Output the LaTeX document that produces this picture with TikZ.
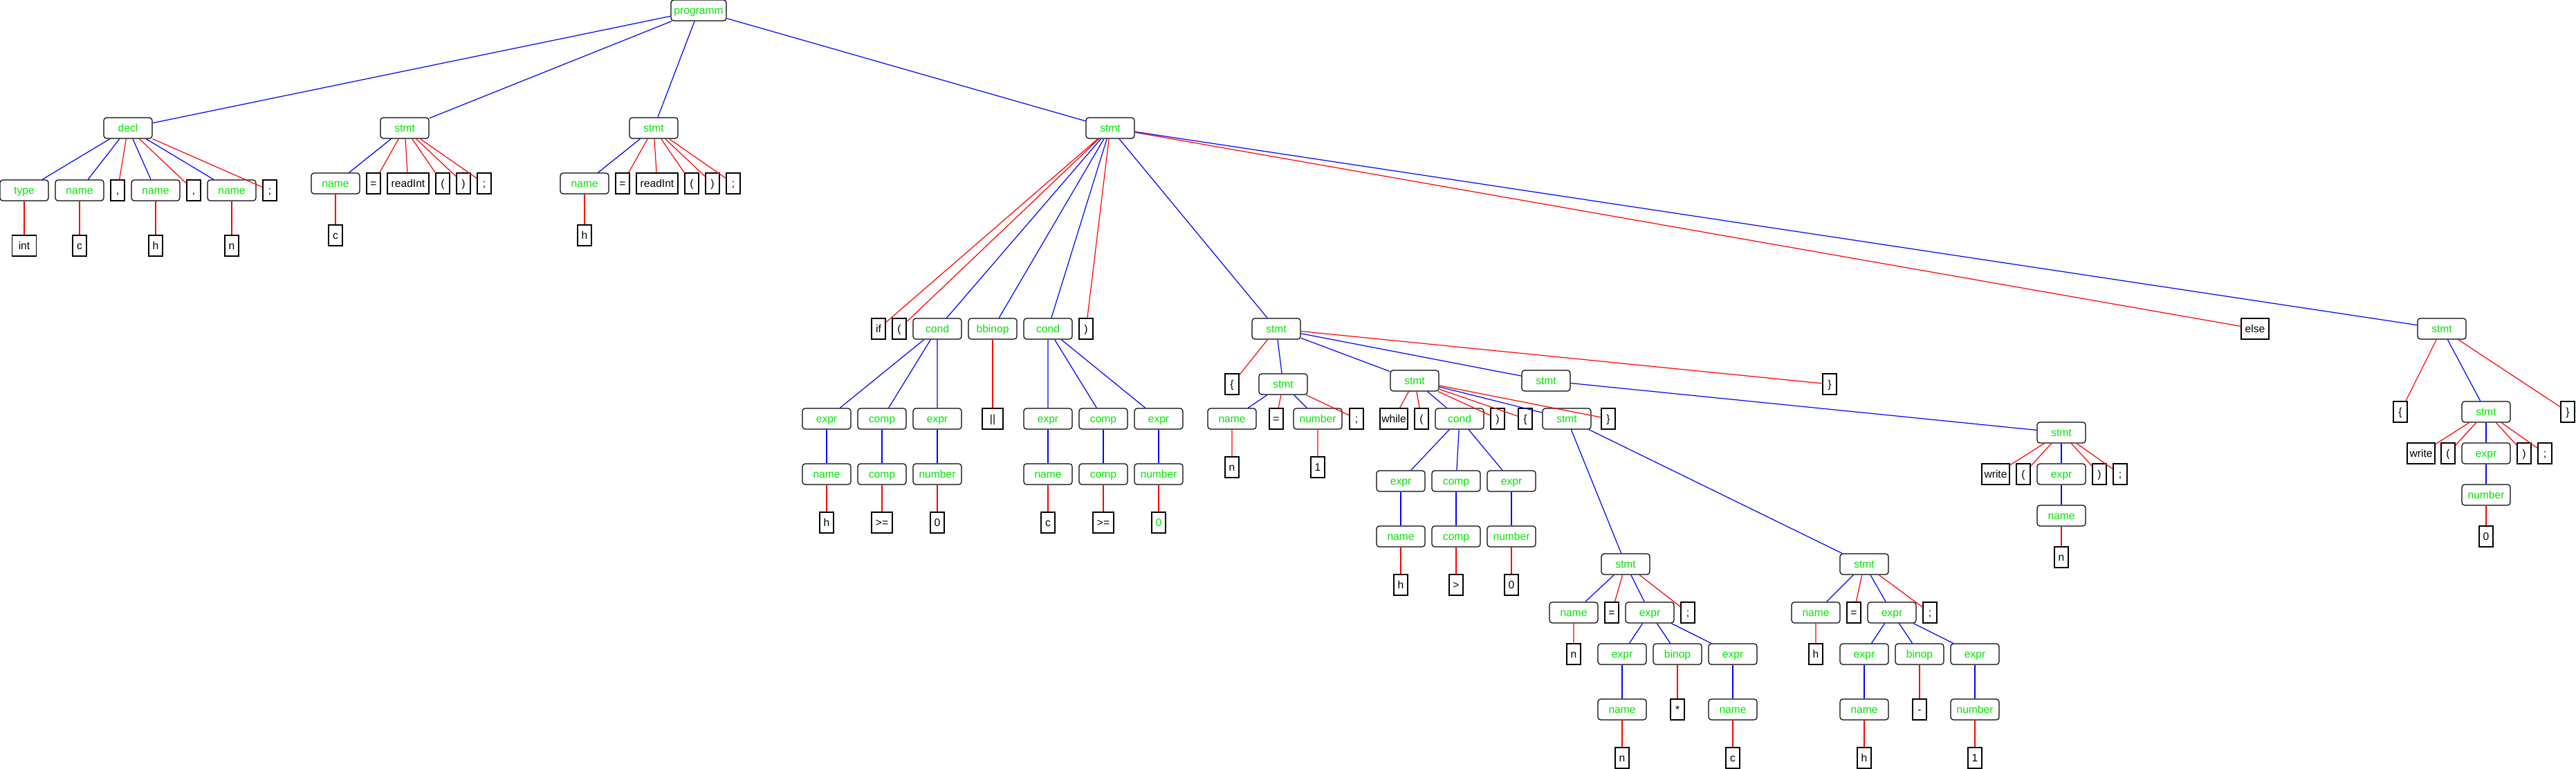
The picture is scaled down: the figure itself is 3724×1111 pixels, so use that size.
\documentclass[tikz,border=0pt]{standalone}
\usepackage{fontspec}
\setmainfont{Liberation Sans}
\definecolor{RuleGreen}{RGB}{0,230,0}
\definecolor{RuleBlue}{RGB}{0,0,255}
\definecolor{TokenRed}{RGB}{255,0,0}
\tikzset{
  rulebox/.style={draw=black,line width=0.6pt,rounded corners=2pt,
    minimum width=35pt,minimum height=15pt,inner sep=0pt,text=RuleGreen,
    font=\fontsize{7.8}{8}\selectfont,text height=1.45ex,text depth=0.35ex},
  tokbox/.style={draw=black,line width=0.6pt,
    minimum width=10pt,minimum height=15pt,inner sep=0pt,text=black,
    font=\fontsize{7.8}{8}\selectfont,text height=1.45ex,text depth=0.35ex},
  ruleedge/.style={draw=RuleBlue,line width=0.6pt},
  tokedge/.style={draw=TokenRed,line width=0.6pt}
}

\begin{document}
\begin{tikzpicture}[x=0.5pt,y=-0.5pt]
  \useasboundingbox (0,0) rectangle (3724,1111);
  % root and top level
  \node[rulebox,minimum width=40pt] (prog) at (1010,15) {programm};
  \node[rulebox] (decl) at (185,185) {decl};
  \node[rulebox] (stA) at (585,185) {stmt};
  \node[rulebox] (stB) at (945,185) {stmt};
  \node[rulebox] (stC) at (1605,185) {stmt};

  % declaration
  \node[rulebox] (dtype) at (35,275) {type};
  \node[rulebox] (dname1) at (115,275) {name};
  \node[tokbox] (dcom1) at (170,275) {,};
  \node[rulebox] (dname2) at (225,275) {name};
  \node[tokbox] (dcom2) at (280,275) {,};
  \node[rulebox] (dname3) at (335,275) {name};
  \node[tokbox] (dsemi) at (390,275) {;};
  \node[tokbox,minimum width=17.5pt] (dint) at (35,355) {int};
  \node[tokbox] (dc) at (115,355) {c};
  \node[tokbox] (dh) at (225,355) {h};
  \node[tokbox] (dn) at (335,355) {n};

  % c = readInt();
  \node[rulebox] (aname) at (485,265) {name};
  \node[tokbox] (aeq) at (540,265) {=};
  \node[tokbox,minimum width=30pt] (aread) at (590,265) {readInt};
  \node[tokbox] (alp) at (640,265) {(};
  \node[tokbox] (arp) at (670,265) {)};
  \node[tokbox] (asemi) at (700,265) {;};
  \node[tokbox] (ac) at (485,340) {c};

  % h = readInt();
  \node[rulebox] (bname) at (845,265) {name};
  \node[tokbox] (beq) at (900,265) {=};
  \node[tokbox,minimum width=30pt] (bread) at (950,265) {readInt};
  \node[tokbox] (blp) at (1000,265) {(};
  \node[tokbox] (brp) at (1030,265) {)};
  \node[tokbox] (bsemi) at (1060,265) {;};
  \node[tokbox] (bh) at (845,340) {h};

  % if statement
  \node[tokbox] (cif) at (1270,475) {if};
  \node[tokbox] (clp) at (1300,475) {(};
  \node[rulebox] (ccond1) at (1355,475) {cond};
  \node[rulebox] (cbb) at (1435,475) {bbinop};
  \node[rulebox] (ccond2) at (1515,475) {cond};
  \node[tokbox] (crp) at (1570,475) {)};
  \node[rulebox] (cbody) at (1845,475) {stmt};
  \node[tokbox,minimum width=20pt] (celse) at (3260,475) {else};
  \node[rulebox] (celsest) at (3530,475) {stmt};

  % conditions
  \node[rulebox] (e1) at (1195,605) {expr};
  \node[rulebox] (c1) at (1275,605) {comp};
  \node[rulebox] (e2) at (1355,605) {expr};
  \node[tokbox,minimum width=15pt] (orop) at (1435,605) {||};
  \node[rulebox] (e3) at (1515,605) {expr};
  \node[rulebox] (c2) at (1595,605) {comp};
  \node[rulebox] (e4) at (1675,605) {expr};
  \node[rulebox] (n1) at (1195,685) {name};
  \node[rulebox] (cc1) at (1275,685) {comp};
  \node[rulebox] (num1) at (1355,685) {number};
  \node[rulebox] (n2) at (1515,685) {name};
  \node[rulebox] (cc2) at (1595,685) {comp};
  \node[rulebox] (num2) at (1675,685) {number};
  \node[tokbox] (lh) at (1195,755) {h};
  \node[tokbox,minimum width=15pt] (lge1) at (1275,755) {>=};
  \node[tokbox] (l0a) at (1355,755) {0};
  \node[tokbox] (lc) at (1515,755) {c};
  \node[tokbox,minimum width=15pt] (lge2) at (1595,755) {>=};
  \node[tokbox,text=RuleGreen] (l0b) at (1675,755) {0};

  % then block
  \node[tokbox] (lb1) at (1781,555) {\{};
  \node[rulebox] (st1) at (1855,555) {stmt};
  \node[rulebox] (stw) at (2045,550) {stmt};
  \node[rulebox] (st2) at (2235,550) {stmt};
  \node[tokbox] (rb1) at (2645,555) {\}};

  % n = 1;
  \node[rulebox] (s1name) at (1781,605) {name};
  \node[tokbox] (s1eq) at (1845,605) {=};
  \node[rulebox] (s1num) at (1905,605) {number};
  \node[tokbox] (s1semi) at (1961,605) {;};
  \node[tokbox] (s1n) at (1781,675) {n};
  \node[tokbox] (s1one) at (1905,675) {1};

  % while loop
  \node[tokbox,minimum width=20pt] (wwhile) at (2015,605) {while};
  \node[tokbox] (wlp) at (2055,605) {(};
  \node[rulebox] (wcond) at (2110,605) {cond};
  \node[tokbox] (wrp) at (2165,605) {)};
  \node[tokbox] (wlb) at (2205,605) {\{};
  \node[rulebox] (wst) at (2265,605) {stmt};
  \node[tokbox] (wrb) at (2325,605) {\}};
  \node[rulebox] (we1) at (2025,695) {expr};
  \node[rulebox] (wc) at (2105,695) {comp};
  \node[rulebox] (we2) at (2185,695) {expr};
  \node[rulebox] (wname) at (2025,775) {name};
  \node[rulebox] (wcomp) at (2105,775) {comp};
  \node[rulebox] (wnum) at (2185,775) {number};
  \node[tokbox] (wh) at (2025,845) {h};
  \node[tokbox] (wgt) at (2105,845) {>};
  \node[tokbox] (w0) at (2185,845) {0};

  % loop body
  \node[rulebox] (stm1) at (2350,815) {stmt};
  \node[rulebox] (stm2) at (2695,815) {stmt};
  \node[rulebox] (m1name) at (2275,885) {name};
  \node[tokbox] (m1eq) at (2330,885) {=};
  \node[rulebox] (m1expr) at (2385,885) {expr};
  \node[tokbox] (m1semi) at (2440,885) {;};
  \node[tokbox] (m1n) at (2275,945) {n};
  \node[rulebox] (m1e1) at (2345,945) {expr};
  \node[rulebox] (m1bin) at (2425,945) {binop};
  \node[rulebox] (m1e2) at (2505,945) {expr};
  \node[rulebox] (m1name2) at (2345,1025) {name};
  \node[tokbox] (m1star) at (2425,1025) {*};
  \node[rulebox] (m1name3) at (2505,1025) {name};
  \node[tokbox] (m1nn) at (2345,1095) {n};
  \node[tokbox] (m1c) at (2505,1095) {c};
  \node[rulebox] (m2name) at (2625,885) {name};
  \node[tokbox] (m2eq) at (2680,885) {=};
  \node[rulebox] (m2expr) at (2735,885) {expr};
  \node[tokbox] (m2semi) at (2790,885) {;};
  \node[tokbox] (m2h) at (2625,945) {h};
  \node[rulebox] (m2e1) at (2695,945) {expr};
  \node[rulebox] (m2bin) at (2775,945) {binop};
  \node[rulebox] (m2e2) at (2855,945) {expr};
  \node[rulebox] (m2name2) at (2695,1025) {name};
  \node[tokbox] (m2minus) at (2775,1025) {-};
  \node[rulebox] (m2num) at (2855,1025) {number};
  \node[tokbox] (m2hh) at (2695,1095) {h};
  \node[tokbox] (m2one) at (2855,1095) {1};

  % write(n);
  \node[rulebox] (wrs) at (2980,625) {stmt};
  \node[tokbox,minimum width=20pt] (wwrite) at (2885,685) {write};
  \node[tokbox] (wrlp) at (2925,685) {(};
  \node[rulebox] (wrexpr) at (2980,685) {expr};
  \node[tokbox] (wrrp) at (3035,685) {)};
  \node[tokbox] (wrsemi) at (3065,685) {;};
  \node[rulebox] (wrname) at (2980,745) {name};
  \node[tokbox] (wrn) at (2980,805) {n};

  % else block
  \node[tokbox] (elb) at (3470,595) {\{};
  \node[rulebox] (est) at (3594,595) {stmt};
  \node[tokbox] (erb) at (3712,595) {\}};
  \node[tokbox,minimum width=20pt] (ewrite) at (3500,655) {write};
  \node[tokbox] (elp) at (3539,655) {(};
  \node[rulebox] (eexpr) at (3594,655) {expr};
  \node[tokbox] (erp) at (3649,655) {)};
  \node[tokbox] (esemi) at (3679,655) {;};
  \node[rulebox] (enum) at (3594,715) {number};
  \node[tokbox] (e0) at (3594,775) {0};

  % edges
  \draw[ruleedge] (prog) -- (decl) (prog) -- (stA) (prog) -- (stB) (prog) -- (stC);
  \draw[ruleedge] (decl) -- (dtype) (decl) -- (dname1) (decl) -- (dname2) (decl) -- (dname3);
  \draw[tokedge] (decl) -- (dcom1) (decl) -- (dcom2) (decl) -- (dsemi);
  \draw[tokedge] (dtype) -- (dint) (dname1) -- (dc) (dname2) -- (dh) (dname3) -- (dn);
  \draw[ruleedge] (stA) -- (aname);
  \draw[tokedge] (stA) -- (aeq) (stA) -- (aread) (stA) -- (alp) (stA) -- (arp) (stA) -- (asemi);
  \draw[tokedge] (aname) -- (ac);
  \draw[ruleedge] (stB) -- (bname);
  \draw[tokedge] (stB) -- (beq) (stB) -- (bread) (stB) -- (blp) (stB) -- (brp) (stB) -- (bsemi);
  \draw[tokedge] (bname) -- (bh);
  \draw[tokedge] (stC) -- (cif) (stC) -- (clp) (stC) -- (crp) (stC) -- (celse);
  \draw[ruleedge] (stC) -- (ccond1) (stC) -- (cbb) (stC) -- (ccond2) (stC) -- (cbody) (stC) -- (celsest);
  \draw[ruleedge] (ccond1) -- (e1) (ccond1) -- (c1) (ccond1) -- (e2);
  \draw[ruleedge] (ccond2) -- (e3) (ccond2) -- (c2) (ccond2) -- (e4);
  \draw[tokedge] (cbb) -- (orop);
  \draw[ruleedge] (e1) -- (n1) (c1) -- (cc1) (e2) -- (num1) (e3) -- (n2) (c2) -- (cc2) (e4) -- (num2);
  \draw[tokedge] (n1) -- (lh) (cc1) -- (lge1) (num1) -- (l0a) (n2) -- (lc) (cc2) -- (lge2) (num2) -- (l0b);
  \draw[tokedge] (cbody) -- (lb1) (cbody) -- (rb1);
  \draw[ruleedge] (cbody) -- (st1) (cbody) -- (stw) (cbody) -- (st2);
  \draw[ruleedge] (st1) -- (s1name) (st1) -- (s1num);
  \draw[tokedge] (st1) -- (s1eq) (st1) -- (s1semi) (s1name) -- (s1n) (s1num) -- (s1one);
  \draw[tokedge] (stw) -- (wwhile) (stw) -- (wlp) (stw) -- (wrp) (stw) -- (wlb) (stw) -- (wrb);
  \draw[ruleedge] (stw) -- (wcond) (stw) -- (wst);
  \draw[ruleedge] (wcond) -- (we1) (wcond) -- (wc) (wcond) -- (we2);
  \draw[ruleedge] (we1) -- (wname) (wc) -- (wcomp) (we2) -- (wnum);
  \draw[tokedge] (wname) -- (wh) (wcomp) -- (wgt) (wnum) -- (w0);
  \draw[ruleedge] (wst) -- (stm1) (wst) -- (stm2);
  \draw[ruleedge] (stm1) -- (m1name) (stm1) -- (m1expr);
  \draw[tokedge] (stm1) -- (m1eq) (stm1) -- (m1semi) (m1name) -- (m1n);
  \draw[ruleedge] (m1expr) -- (m1e1) (m1expr) -- (m1bin) (m1expr) -- (m1e2);
  \draw[ruleedge] (m1e1) -- (m1name2) (m1e2) -- (m1name3);
  \draw[tokedge] (m1bin) -- (m1star) (m1name2) -- (m1nn) (m1name3) -- (m1c);
  \draw[ruleedge] (stm2) -- (m2name) (stm2) -- (m2expr);
  \draw[tokedge] (stm2) -- (m2eq) (stm2) -- (m2semi) (m2name) -- (m2h);
  \draw[ruleedge] (m2expr) -- (m2e1) (m2expr) -- (m2bin) (m2expr) -- (m2e2);
  \draw[ruleedge] (m2e1) -- (m2name2) (m2e2) -- (m2num);
  \draw[tokedge] (m2bin) -- (m2minus) (m2name2) -- (m2hh) (m2num) -- (m2one);
  \draw[ruleedge] (st2) -- (wrs);
  \draw[tokedge] (wrs) -- (wwrite) (wrs) -- (wrlp) (wrs) -- (wrrp) (wrs) -- (wrsemi);
  \draw[ruleedge] (wrs) -- (wrexpr) (wrexpr) -- (wrname);
  \draw[tokedge] (wrname) -- (wrn);
  \draw[tokedge] (celsest) -- (elb) (celsest) -- (erb);
  \draw[ruleedge] (celsest) -- (est);
  \draw[tokedge] (est) -- (ewrite) (est) -- (elp) (est) -- (erp) (est) -- (esemi);
  \draw[ruleedge] (est) -- (eexpr) (eexpr) -- (enum);
  \draw[tokedge] (enum) -- (e0);
\end{tikzpicture}
\end{document}
